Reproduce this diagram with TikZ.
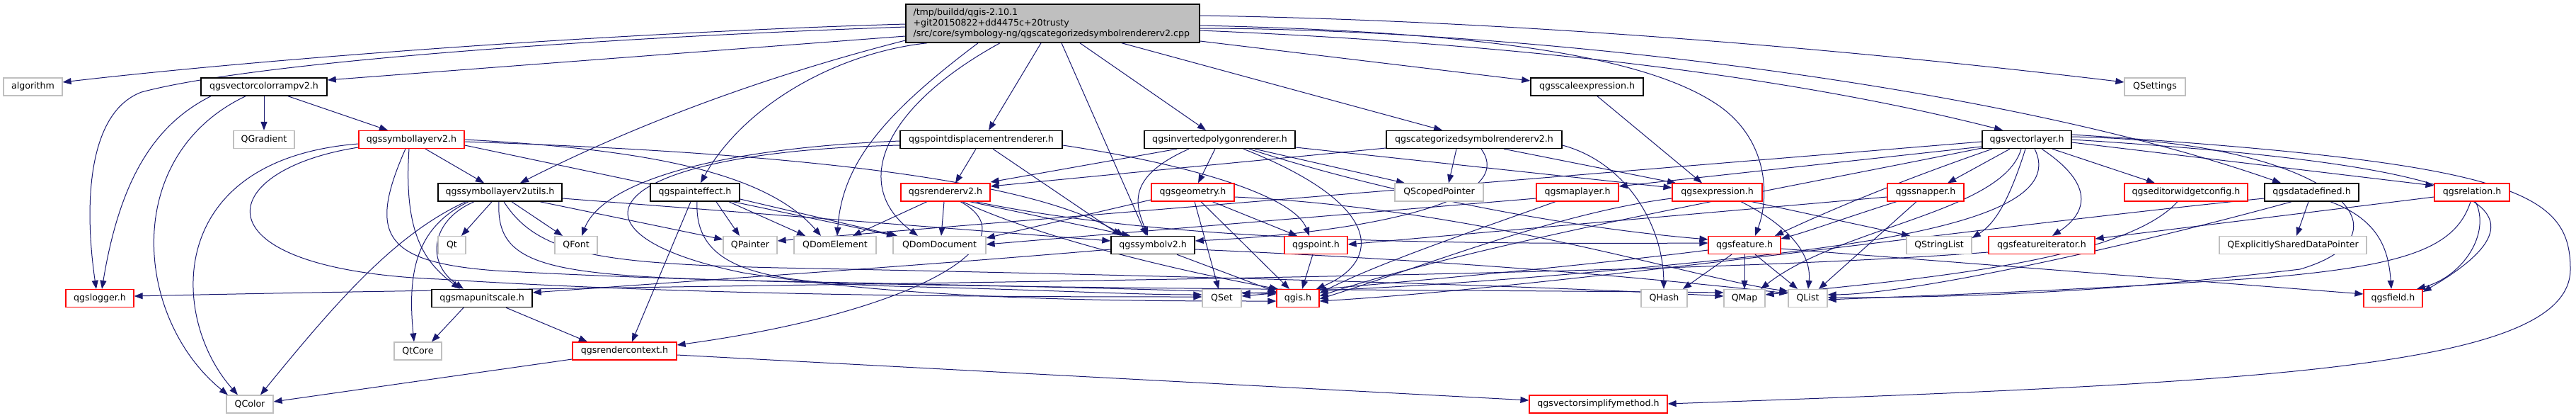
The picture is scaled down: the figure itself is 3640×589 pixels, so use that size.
\documentclass[tikz,border=0pt]{standalone}
\usepackage{fontspec}
\setmainfont{DejaVu Sans}
\definecolor{nuit}{RGB}{25,25,112}
\definecolor{cadre}{RGB}{191,191,191}
\definecolor{fond}{RGB}{191,191,191}
\usepackage{tikz}
\usetikzlibrary{arrows.meta,backgrounds}

\begin{document}
\begin{tikzpicture}[x=0.5pt,y=-0.5pt,font=\fontsize{6.3}{7.3}\selectfont,
	boite/.style={draw,fill=white,minimum height=12.5pt,inner sep=0pt,line width=0.6pt},
	noir/.style={boite,draw=black,line width=0.75pt},
	rouge/.style={boite,draw=red},
	clair/.style={boite,draw=cadre},
	larg/.style={minimum width=#1*0.5pt},
	fleche/.style={draw=nuit,line width=0.5pt,-{Triangle[length=6pt,width=4.5pt]}}]
	\useasboundingbox (0,0) rectangle (3640,589);

	% fichier source
	\node[noir,fill=fond,align=left,text width=197pt,inner xsep=5.25pt,minimum height=27pt] (main) at (1487.5,33)
	{/tmp/buildd/qgis-2.10.1\\+git20150822+dd4475c+20trusty\\/src/core/symbology-ng/qgscategorizedsymbolrendererv2.cpp};

	% rang 1
	\node[clair,larg=83] (algo) at (46.5,122.5) {algorithm};
	\node[noir,larg=178] (vcr) at (373,122.5) {qgsvectorcolorrampv2.h};
	\node[noir,larg=159] (scaleexpr) at (2242.5,122.5) {qgsscaleexpression.h};
	\node[clair,larg=86] (qsettings) at (3045,122.5) {QSettings};

	% rang 2
	\node[clair,larg=86] (qgradient) at (373,197) {QGradient};
	\node[rouge,larg=149] (sl2) at (581.5,197) {qgssymbollayerv2.h};
	\node[noir,larg=229] (pdr) at (1386.5,197) {qgspointdisplacementrenderer.h};
	\node[noir,larg=213] (invpoly) at (1723.5,197) {qgsinvertedpolygonrenderer.h};
	\node[noir,larg=248] (catsym) at (2083,197) {qgscategorizedsymbolrendererv2.h};
	\node[noir,larg=126] (vlayer) at (2864,197) {qgsvectorlayer.h};

	% rang 3
	\node[noir,larg=175] (utils) at (706.5,271.5) {qgssymbollayerv2utils.h};
	\node[noir,larg=126] (pe) at (982,271.5) {qgspainteffect.h};
	\node[rouge,larg=126] (rendererv2) at (1336,271.5) {qgsrendererv2.h};
	\node[rouge,larg=117] (geometry) at (1685.5,271.5) {qgsgeometry.h};
	\node[clair,larg=125] (qscoped) at (2033.5,271.5) {QScopedPointer};
	\node[rouge,larg=116] (maplayer) at (2229,271.5) {qgsmaplayer.h};
	\node[rouge,larg=127] (expression) at (2426.5,271.5) {qgsexpression.h};
	\node[rouge,larg=108] (snapper) at (2721,271.5) {qgssnapper.h};
	\node[rouge,larg=174] (editwidget) at (3089,271.5) {qgseditorwidgetconfig.h};
	\node[noir,larg=133] (datadef) at (3266.5,271.5) {qgsdatadefined.h};
	\node[rouge,larg=106] (relation) at (3493,271.5) {qgsrelation.h};

	% rang 4
	\node[clair,larg=39] (qt) at (638.5,346) {Qt};
	\node[clair,larg=60] (qfont) at (814,346) {QFont};
	\node[clair,larg=76] (qpainter) at (1060,346) {QPainter};
	\node[clair,larg=116] (qdomelem) at (1180,346) {QDomElement};
	\node[clair,larg=131] (qdomdoc) at (1327.5,346) {QDomDocument};
	\node[noir,larg=118] (symbolv2) at (1629,346) {qgssymbolv2.h};
	\node[rouge,larg=89] (point) at (1859.5,346) {qgspoint.h};
	\node[rouge,larg=102] (feature) at (2465,346) {qgsfeature.h};
	\node[clair,larg=92] (qstringlist) at (2740,346) {QStringList};
	\node[rouge,larg=150] (featiter) at (2885,346) {qgsfeatureiterator.h};
	\node[clair,larg=208] (qexplicit) at (3240,346) {QExplicitlySharedDataPointer};

	% rang 5
	\node[rouge,larg=96] (logger) at (141,421) {qgslogger.h};
	\node[noir,larg=142] (mapunit) at (681,421) {qgsmapunitscale.h};
	\node[clair,larg=55] (qset) at (1726.5,421) {QSet};
	\node[rouge,larg=60] (qgis) at (1834,421) {qgis.h};
	\node[clair,larg=65] (qhash) at (2351.5,421) {QHash};
	\node[clair,larg=58] (qmap) at (2465,421) {QMap};
	\node[clair,larg=55] (qlist) at (2554.5,421) {QList};
	\node[rouge,larg=83] (field) at (3381.5,421) {qgsfield.h};

	% rangs 6 et 7
	\node[clair,larg=67] (qtcore) at (590.5,495.5) {QtCore};
	\node[rouge,larg=147] (rendercontext) at (882.5,495.5) {qgsrendercontext.h};
	\node[clair,larg=66] (qcolor) at (353,570.5) {QColor};
	\node[rouge,larg=195] (vsimplify) at (2258.5,570.5) {qgsvectorsimplifymethod.h};

	\begin{scope}[on background layer]
	% depuis le fichier source
	\draw[fleche] (main.west |- 0,34) .. controls (900,45) and (400,80) .. (algo.east |- 0,116);
	\draw[fleche] (main.west |- 0,38) .. controls (800,55) and (350,90) .. (200,130) .. controls (120,160) and (120,300) .. (136,0 |- logger.north);
	\draw[fleche] (main.west |- 0,51) -- (vcr.east |- 0,113);
	\draw[fleche] (main.west |- 0,57) .. controls (1150,90) and (950,150) .. (735,0 |- utils.north);
	\draw[fleche] (1310,0 |- main.south) .. controls (1180,75) and (1050,150) .. (990,0 |- pe.north);
	\draw[fleche] (1382,0 |- main.south) .. controls (1250,160) and (1190,230) .. (1183,0 |- qdomelem.north);
	\draw[fleche] (1413,0 |- main.south) .. controls (1250,150) and (1200,260) .. (1297,0 |- qdomdoc.north);
	\draw[fleche] (1471,0 |- main.south) -- (1397,0 |- pdr.north);
	\draw[fleche] (1500,0 |- main.south) -- (1620,0 |- symbolv2.north);
	\draw[fleche] (1526,0 |- main.south) -- (1704,0 |- invpoly.north);
	\draw[fleche] (1585,0 |- main.south) -- (2038,0 |- catsym.north);
	\draw[fleche] (main.east |- 0,58) -- (scaleexpr.west |- 0,114);
	\draw[fleche] (main.east |- 0,36) .. controls (2100,45) and (2330,80) .. (2430,150) .. controls (2500,200) and (2500,280) .. (2480,0 |- feature.north);
	\draw[fleche] (main.east |- 0,22) .. controls (2200,30) and (2700,80) .. (qsettings.west |- 0,116);
	\draw[fleche] (main.east |- 0,43) .. controls (2100,60) and (2500,100) .. (2830,0 |- vlayer.north);
	\draw[fleche] (main.east |- 0,40) .. controls (2100,40) and (2800,110) .. (3223,0 |- datadef.north);

	% qgsvectorcolorrampv2.h
	\draw[fleche] (298,0 |- vcr.south) .. controls (220,175) and (170,250) .. (144,0 |- logger.north);
	\draw[fleche] (347,0 |- vcr.south) .. controls (170,220) and (190,450) .. (322,0 |- qcolor.north);
	\draw[fleche] (vcr) -- (qgradient);
	\draw[fleche] (407,0 |- vcr.south) -- (548,0 |- sl2.north);

	% qgsscaleexpression.h
	\draw[fleche] (2257,0 |- scaleexpr.south) -- (2405,0 |- expression.north);

	% qgssymbollayerv2.h
	\draw[fleche] (601,0 |- sl2.south) -- (684,0 |- utils.north);
	\draw[fleche] (sl2.west |- 0,203) .. controls (230,225) and (240,450) .. (336,0 |- qcolor.north);
	\draw[fleche] (sl2.west |- 0,208) .. controls (300,240) and (270,380) .. (620,394) .. controls (1000,418) and (1400,419) .. (qset.west |- 0,419);
	\draw[fleche] (573,0 |- sl2.south) .. controls (520,330) and (540,370) .. (700,382) .. controls (1200,410) and (2000,408) .. (qmap.west |- 0,413);
	\draw[fleche] (578,0 |- sl2.south) .. controls (570,330) and (600,370) .. (650,0 |- mapunit.north);
	\draw[fleche] (sl2.east |- 0,197) .. controls (900,210) and (1080,240) .. (1160,0 |- qdomelem.north);
	\draw[fleche] (sl2.east |- 0,200) .. controls (1100,215) and (1450,250) .. (1588,0 |- symbolv2.north);
	\draw[fleche] (sl2.east |- 0,205) -- (1265,0 |- qdomdoc.north);

	% qgssymbollayerv2utils.h
	\draw[fleche] (695,0 |- utils.south) -- (652,0 |- qt.north);
	\draw[fleche] (723,0 |- utils.south) -- (795,0 |- qfont.north);
	\draw[fleche] (763,0 |- utils.south) -- (qpainter.west |- 0,338);
	\draw[fleche] (utils.east |- 0,280) -- (symbolv2.west |- 0,340);
	\draw[fleche] (705,0 |- utils.south) .. controls (700,380) and (780,390) .. (1100,397) .. controls (1500,405) and (1700,410) .. (qgis.west |- 0,415);
	\draw[fleche] (712,0 |- utils.south) .. controls (760,360) and (850,372) .. (1100,378) .. controls (1800,392) and (2200,405) .. (qmap.west |- 0,418);
	\draw[fleche] (670,0 |- utils.south) .. controls (610,310) and (600,370) .. (655,0 |- mapunit.north);
	\draw[fleche] (662,0 |- utils.south) .. controls (590,320) and (575,380) .. (585,0 |- qtcore.north);
	\draw[fleche] (658,0 |- utils.south) .. controls (560,330) and (480,420) .. (368,0 |- qcolor.north);

	% qgspainteffect.h
	\draw[fleche] (1012,0 |- pe.south) -- (1045,0 |- qpainter.north);
	\draw[fleche] (1030,0 |- pe.south) -- (1138,0 |- qdomelem.north);
	\draw[fleche] (pe.east |- 0,281) -- (1268,0 |- qdomdoc.north);
	\draw[fleche] (976,0 |- pe.south) -- (893,0 |- rendercontext.north);
	\draw[fleche] (985,0 |- pe.south) .. controls (980,390) and (1100,400) .. (1300,405) .. controls (1500,410) and (1600,416) .. (qset.west |- 0,416);

	% qgspointdisplacementrenderer.h
	\draw[fleche] (1379,0 |- pdr.south) -- (1350,0 |- rendererv2.north);
	\draw[fleche] (1403,0 |- pdr.south) -- (1584,0 |- symbolv2.north);
	\draw[fleche] (pdr.west |- 0,199) .. controls (1000,210) and (850,260) .. (822,0 |- qfont.north);
	\draw[fleche] (pdr.west |- 0,205) .. controls (840,215) and (780,330) .. (1050,385) .. controls (1300,425) and (1600,425) .. (qgis.west |- 0,425);
	\draw[fleche] (pdr.east |- 0,205) .. controls (1700,235) and (1830,280) .. (1850,0 |- point.north);

	% qgsrendererv2.h
	\draw[fleche] (1310,0 |- rendererv2.south) -- (1205,0 |- qdomelem.north);
	\draw[fleche] (1334,0 |- rendererv2.south) -- (1330,0 |- qdomdoc.north);
	\draw[fleche] (1370,0 |- rendererv2.south) -- (1597,0 |- symbolv2.north);
	\draw[fleche] (1357,0 |- rendererv2.south) .. controls (1460,340) and (1300,440) .. (rendercontext.east |- 0,487);
	\draw[fleche] (1360,0 |- rendererv2.south) .. controls (1480,340) and (1680,385) .. (1806,0 |- qgis.north);
	\draw[fleche] (1378,0 |- rendererv2.south) .. controls (1650,340) and (2000,345) .. (feature.west |- 0,343);

	% qgsgeometry.h et qgspoint.h
	\draw[fleche] (geometry.west |- 0,282) -- (qdomdoc.east |- 0,336);
	\draw[fleche] (1688,0 |- geometry.south) -- (1722,0 |- qset.north);
	\draw[fleche] (1697,0 |- geometry.south) -- (1822,0 |- qgis.north);
	\draw[fleche] (1713,0 |- geometry.south) -- (1833,0 |- point.north);
	\draw[fleche] (geometry.east |- 0,278) .. controls (2100,295) and (2400,395) .. (qlist.west |- 0,411);
	\draw[fleche] (1855,0 |- point.south) -- (1840,0 |- qgis.north);

	% qgssymbolv2.h
	\draw[fleche] (1663,0 |- symbolv2.south) -- (qgis.west |- 0,412);
	\draw[fleche] (symbolv2.west |- 0,352) .. controls (1300,375) and (1000,395) .. (mapunit.east |- 0,413);
	\draw[fleche] (symbolv2.east |- 0,352) .. controls (2100,370) and (2350,395) .. (qlist.west |- 0,414);

	% qgscategorizedsymbolrendererv2.h
	\draw[fleche] (catsym.west |- 0,209) -- (rendererv2.east |- 0,263);
	\draw[fleche] (2093,0 |- catsym.south) .. controls (2150,290) and (1900,330) .. (symbolv2.east |- 0,340);
	\draw[fleche] (2058,0 |- catsym.south) -- (2047,0 |- qscoped.north);
	\draw[fleche] (2125,0 |- catsym.south) -- (2368,0 |- expression.north);
	\draw[fleche] (catsym.east |- 0,205) .. controls (2300,230) and (2350,320) .. (2351,0 |- qhash.north);

	% qgsinvertedpolygonrenderer.h
	\draw[fleche] (1663,0 |- invpoly.south) -- (rendererv2.east |- 0,257);
	\draw[fleche] (1680,0 |- invpoly.south) .. controls (1590,250) and (1605,290) .. (1622,0 |- symbolv2.north);
	\draw[fleche] (1717,0 |- invpoly.south) -- (1693,0 |- geometry.north);
	\draw[fleche] (1757,0 |- invpoly.south) .. controls (1960,290) and (1950,370) .. (1860,0 |- qgis.north);
	\draw[fleche] (1773,0 |- invpoly.south) -- (1985,0 |- qscoped.north);
	\draw[fleche] (1765,0 |- invpoly.south) .. controls (1950,270) and (2200,320) .. (feature.west |- 0,338);
	\draw[fleche] (invpoly.east |- 0,208) -- (expression.west |- 0,265);

	% qgsmaplayer.h, qgsexpression.h, qgssnapper.h
	\draw[fleche] (2198,0 |- maplayer.south) .. controls (2100,320) and (1950,370) .. (qgis.east |- 0,414);
	\draw[fleche] (maplayer.west |- 0,280) -- (qdomdoc.east |- 0,345);
	\draw[fleche] (2475,0 |- expression.south) -- (2699,0 |- qstringlist.north);
	\draw[fleche] (2460,0 |- expression.south) .. controls (2530,320) and (2560,360) .. (2555,0 |- qlist.north);
	\draw[fleche] (expression.west |- 0,280) .. controls (2200,300) and (2000,380) .. (qgis.east |- 0,422);
	\draw[fleche] (snapper.west |- 0,278) -- (point.east |- 0,345);
	\draw[fleche] (2680,0 |- snapper.south) .. controls (2600,310) and (2560,325) .. (feature.east |- 0,337);
	\draw[fleche] (2708,0 |- snapper.south) -- (2570,0 |- qlist.north);

	% qgsvectorlayer.h
	\draw[fleche] (vlayer.west |- 0,207) -- (maplayer.east |- 0,263);
	\draw[fleche] (vlayer.west |- 0,200) -- (qpainter.east |- 0,340);
	\draw[fleche] (2840,0 |- vlayer.south) -- (2752,0 |- snapper.north);
	\draw[fleche] (2815,0 |- vlayer.south) .. controls (2700,250) and (2600,290) .. (2508,0 |- feature.north);
	\draw[fleche] (2862,0 |- vlayer.south) .. controls (2840,280) and (2820,315) .. (qstringlist.east |- 0,336);
	\draw[fleche] (2885,0 |- vlayer.south) .. controls (2960,260) and (2950,300) .. (2900,0 |- featiter.north);
	\draw[fleche] (2900,0 |- vlayer.south) -- (3045,0 |- editwidget.north);
	\draw[fleche] (2856,0 |- vlayer.south) .. controls (2830,300) and (2600,320) .. (2488,0 |- qmap.north);
	\draw[fleche] (2875,0 |- vlayer.south) .. controls (2920,300) and (2700,340) .. (2400,370) .. controls (2100,400) and (1900,410) .. (qset.east |- 0,414);
	\draw[fleche] (vlayer.west |- 0,209) .. controls (2500,270) and (2100,340) .. (qgis.east |- 0,418);
	\draw[fleche] (vlayer.east |- 0,201) -- (relation.west |- 0,262);
	\draw[fleche] (vlayer.east |- 0,197) .. controls (3450,230) and (3650,280) .. (field.east |- 0,412);
	\draw[fleche] (vlayer.east |- 0,193) .. controls (3300,200) and (3420,330) .. (3250,380) .. controls (3000,410) and (2800,420) .. (qlist.east |- 0,420);
	\draw[fleche] (vlayer.east |- 0,190) .. controls (3550,230) and (3632,270) .. (3632,380) .. controls (3632,520) and (3200,540) .. (vsimplify.east |- 0,570);

	% qgseditorwidgetconfig.h, qgsdatadefined.h, qgsrelation.h
	\draw[fleche] (3077,0 |- editwidget.south) .. controls (3000,370) and (2700,395) .. (qmap.east |- 0,416);
	\draw[fleche] (3262,0 |- datadef.south) -- (3245,0 |- qexplicit.north);
	\draw[fleche] (3293,0 |- datadef.south) .. controls (3360,310) and (3375,350) .. (3379,0 |- field.north);
	\draw[fleche] (datadef.west |- 0,280) .. controls (2800,320) and (2200,405) .. (qgis.east |- 0,425);
	\draw[fleche] (3238,0 |- datadef.south) .. controls (3000,350) and (2700,415) .. (qlist.east |- 0,416);
	\draw[fleche] (relation.west |- 0,278) -- (featiter.east |- 0,337);
	\draw[fleche] (3498,0 |- relation.south) .. controls (3520,330) and (3480,390) .. (3415,0 |- field.north);
	\draw[fleche] (3491,0 |- relation.south) .. controls (3470,350) and (3400,375) .. (3200,392) .. controls (2900,412) and (2700,418) .. (qlist.east |- 0,423);

	% qgsfeature.h, qgsfeatureiterator.h
	\draw[fleche] (2447,0 |- feature.south) -- (2378,0 |- qhash.north);
	\draw[fleche] (feature) -- (qmap);
	\draw[fleche] (2480,0 |- feature.south) -- (2540,0 |- qlist.north);
	\draw[fleche] (feature.east |- 0,351) -- (field.west |- 0,415);
	\draw[fleche] (feature.west |- 0,353) .. controls (2200,380) and (1900,405) .. (qset.east |- 0,418);
	\draw[fleche] (featiter.west |- 0,356) .. controls (2300,395) and (1000,400) .. (logger.east |- 0,418);

	% qgsmapunitscale.h, qgsrendercontext.h
	\draw[fleche] (655,0 |- mapunit.south) -- (610,0 |- qtcore.north);
	\draw[fleche] (715,0 |- mapunit.south) -- (830,0 |- rendercontext.north);
	\draw[fleche] (rendercontext.west |- 0,507) -- (qcolor.east |- 0,567);
	\draw[fleche] (rendercontext.east |- 0,501) -- (vsimplify.west |- 0,565);
	\end{scope}
\end{tikzpicture}
\end{document}
